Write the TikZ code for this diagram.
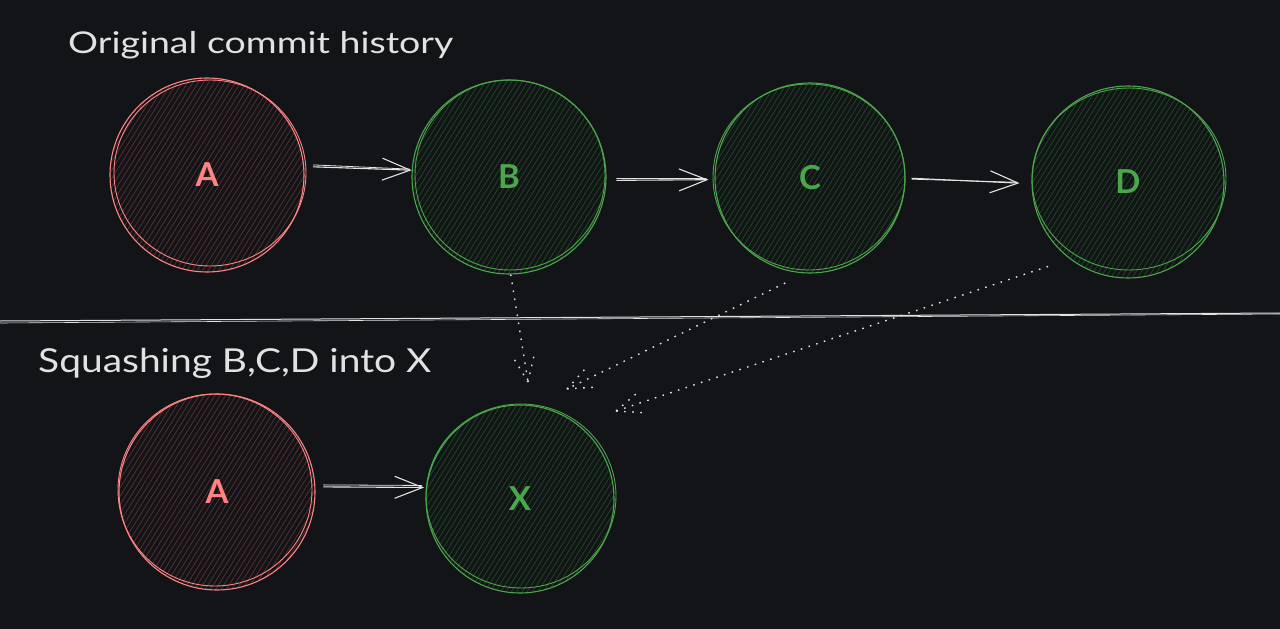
\documentclass[tikz,border=0pt]{standalone}
\usepackage{fontspec}
\setmainfont{Lato}
\usetikzlibrary{arrows.meta,patterns.meta,calc}
\definecolor{bg}{HTML}{121418}
\definecolor{redline}{HTML}{FF8383}
\definecolor{redhatch}{HTML}{5C3232}
\definecolor{greenline}{HTML}{4CA64C}
\definecolor{greenhatch}{HTML}{1F4D1F}
\definecolor{ink}{HTML}{E2E2E2}
\tikzset{
  commit/.style={circle, inner sep=0pt, minimum size=194pt, line width=1.1pt,
    font=\fontsize{33}{33}\selectfont\bfseries},
  redcommit/.style={commit, draw=redline, text=redline,
    pattern={Lines[angle=58,distance=4.5pt,line width=0.7pt]}, pattern color=redhatch},
  greencommit/.style={commit, draw=greenline, text=greenline,
    pattern={Lines[angle=58,distance=4.5pt,line width=0.7pt]}, pattern color=greenhatch},
  redsketch/.style={draw=redline, line width=0.9pt},
  greensketch/.style={draw=greenline, line width=0.9pt},
  flow/.style={draw=ink, line width=1.1pt, -{Straight Barb[length=28pt,width=22pt,line width=1.1pt]}},
  flowtwin/.style={draw=ink, line width=0.8pt},
  squash/.style={draw=ink, line width=1.4pt, dash pattern=on 1.6pt off 6.5pt},
  heading/.style={text=ink, anchor=base west, inner sep=0pt},
}
\begin{document}
\begin{tikzpicture}[x=1pt,y=-1pt]
\fill[bg] (0,0) rectangle (1280,629);
\useasboundingbox (0,0) rectangle (1280,629);

% headings
\node[heading, font=\fontsize{30}{30}\selectfont] (t1) at (68,53) {\scalebox{1.25}[1]{Original commit history}};
\node[heading, font=\fontsize{33}{33}\selectfont] (t2) at (38,372) {\scalebox{1.18}[1]{Squashing B,C,D into X}};

% divider
\coordinate (l0) at (0,321);
\coordinate (l1) at (1280,313);
\draw[ink, line width=1pt] (l0) -- (l1);
\draw[ink, line width=0.6pt] ([yshift=-2pt]l0) -- ([yshift=-1pt]l1);

% commits
\node[redcommit] (A1) at (207,175) {A};
\draw[redsketch] (A1.center) ++(3,-2) ellipse [x radius=96, y radius=93];
\node[greencommit] (B) at (509,177) {B};
\draw[greensketch] (B.center) ++(1,-2) ellipse [x radius=95, y radius=95];
\node[greencommit, minimum size=190pt] (C) at (810,178) {C};
\draw[greensketch] (C.center) ++(-1,-1) ellipse [x radius=96, y radius=93];
\node[greencommit, minimum size=192pt] (D) at (1128,182) {D};
\draw[greensketch] (D.center) ++(1,-3) ellipse [x radius=97, y radius=91];

\node[redcommit, minimum size=196pt] (A2) at (217,492) {A};
\draw[redsketch] (A2.center) ++(-2,-2) ellipse [x radius=97, y radius=96];
\node[greencommit, minimum size=188pt] (X) at (520,499) {X};
\draw[greensketch] (X.center) ++(1,-3) ellipse [x radius=95, y radius=92];

% history arrows
\draw[flow, shorten <=9pt] (A1.5) -- (B.176);
\draw[flowtwin, shorten <=9pt, shorten >=2pt] ([yshift=2pt]A1.5) -- ([yshift=1pt]B.176);
\draw[flow, shorten <=10pt, shorten >=6pt] (B.358) -- (C.181);
\draw[flowtwin, shorten <=10pt, shorten >=8pt] ([yshift=2pt]B.358) -- ([yshift=1pt]C.181);
\draw[flow, shorten <=6pt, shorten >=12pt] (C.0) -- (D.181);
\draw[flowtwin, shorten <=6pt, shorten >=14pt] ([yshift=-1pt]C.0) -- ([yshift=1pt]D.181);
\draw[flow, shorten <=8pt, shorten >=2pt] (A2.3) -- (X.173);
\draw[flowtwin, shorten <=8pt, shorten >=4pt] ([yshift=2pt]A2.3) -- ([yshift=2pt]X.173);

% squash arrows (dotted, with dotted barbs)
\coordinate (bx) at (528,382);
\coordinate (cx) at (567,389);
\coordinate (dx) at (616,411);
\draw[squash] (B.271) -- (bx);
\draw[squash] (bx) -- ($(bx)!28pt!22:(B.271)$);
\draw[squash] (bx) -- ($(bx)!28pt!-22:(B.271)$);
\draw[squash, shorten <=22pt] (C.267) -- (cx);
\draw[squash] (cx) -- ($(cx)!30pt!22:(C.267)$);
\draw[squash] (cx) -- ($(cx)!30pt!-22:(C.267)$);
\draw[squash, shorten <=23pt] (D.233) -- (dx);
\draw[squash] (dx) -- ($(dx)!30pt!22:(D.233)$);
\draw[squash] (dx) -- ($(dx)!30pt!-22:(D.233)$);
\end{tikzpicture}
\end{document}
